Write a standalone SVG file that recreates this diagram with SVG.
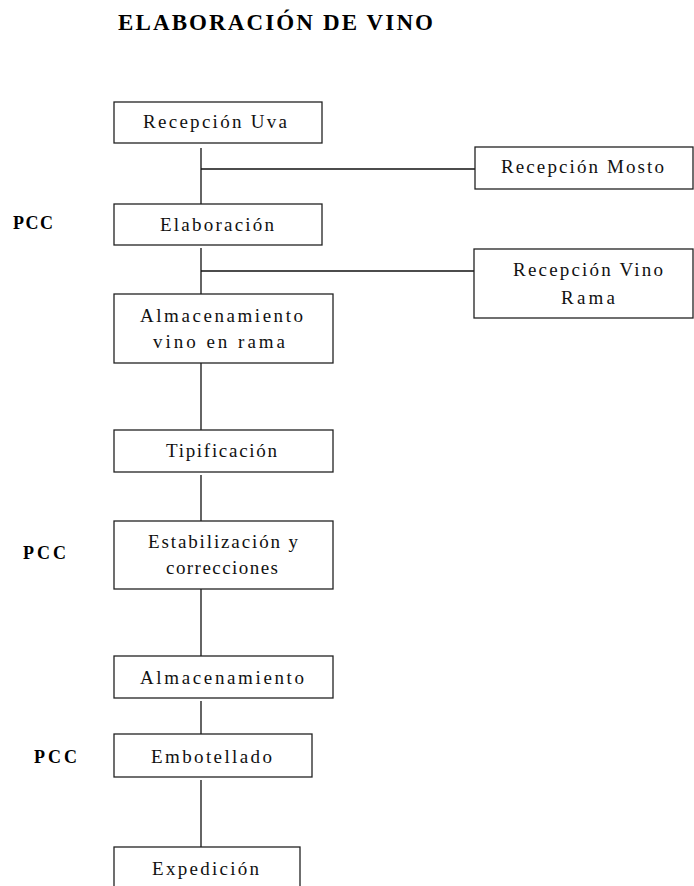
<svg xmlns="http://www.w3.org/2000/svg" width="694" height="886" viewBox="0 0 694 886">
<style>
.box{fill:#fff;stroke:#222;stroke-width:1.3}
.ln{stroke:#111;stroke-width:1.3;fill:none}
.t{font-family:"Liberation Serif","Times New Roman",serif;font-size:19px;fill:#111}
.b{font-family:"Liberation Serif","Times New Roman",serif;font-size:18px;font-weight:bold;fill:#000}
.title{font-family:"Liberation Serif","Times New Roman",serif;font-size:23px;font-weight:bold;fill:#000}
</style>
<rect width="694" height="886" fill="#fff"/>
<text class="title" x="118" y="30" textLength="315" lengthAdjust="spacing">ELABORACIÓN DE VINO</text>
<g id="connectors">
<line class="ln" x1="201" y1="148" x2="201" y2="204"/>
<line class="ln" x1="201" y1="169" x2="475" y2="169"/>
<line class="ln" x1="201" y1="248" x2="201" y2="294"/>
<line class="ln" x1="201" y1="271" x2="474" y2="271"/>
<line class="ln" x1="201" y1="363" x2="201" y2="430"/>
<line class="ln" x1="201" y1="475" x2="201" y2="521"/>
<line class="ln" x1="201" y1="589" x2="201" y2="656"/>
<line class="ln" x1="201" y1="701" x2="201" y2="734"/>
<line class="ln" x1="201" y1="780" x2="201" y2="847"/>
</g>
<g id="recepcion-uva"><rect class="box" x="114" y="102" width="208" height="41"/><text class="t" x="143" y="128" textLength="144" lengthAdjust="spacing">Recepción Uva</text></g>
<g id="recepcion-mosto"><rect class="box" x="475" y="147" width="218" height="42"/><text class="t" x="501" y="173" textLength="163" lengthAdjust="spacing">Recepción Mosto</text></g>
<g id="pcc-1"><text class="b" x="13" y="229" textLength="40" lengthAdjust="spacing">PCC</text></g>
<g id="elaboracion"><rect class="box" x="114" y="204" width="208" height="41"/><text class="t" x="160" y="231" textLength="114" lengthAdjust="spacing">Elaboración</text></g>
<g id="recepcion-vino-rama"><rect class="box" x="474" y="249" width="219" height="69"/><text class="t" x="513" y="276" textLength="150" lengthAdjust="spacing">Recepción Vino</text><text class="t" x="561" y="304" textLength="54" lengthAdjust="spacing">Rama</text></g>
<g id="almacenamiento-rama"><rect class="box" x="114" y="294" width="219" height="69"/><text class="t" x="140" y="322" textLength="163" lengthAdjust="spacing">Almacenamiento</text><text class="t" x="153" y="348" textLength="132" lengthAdjust="spacing">vino en rama</text></g>
<g id="tipificacion"><rect class="box" x="114" y="430" width="219" height="42"/><text class="t" x="166" y="457" textLength="111" lengthAdjust="spacing">Tipificación</text></g>
<g id="pcc-2"><text class="b" x="23" y="559" textLength="43" lengthAdjust="spacing">PCC</text></g>
<g id="estabilizacion"><rect class="box" x="114" y="521" width="219" height="68"/><text class="t" x="148" y="548" textLength="150" lengthAdjust="spacing">Estabilización y</text><text class="t" x="166" y="574" textLength="112" lengthAdjust="spacing">correcciones</text></g>
<g id="almacenamiento"><rect class="box" x="114" y="656" width="219" height="42"/><text class="t" x="140" y="684" textLength="164" lengthAdjust="spacing">Almacenamiento</text></g>
<g id="pcc-3"><text class="b" x="34" y="763" textLength="43" lengthAdjust="spacing">PCC</text></g>
<g id="embotellado"><rect class="box" x="114" y="734" width="198" height="43"/><text class="t" x="151" y="763" textLength="121" lengthAdjust="spacing">Embotellado</text></g>
<g id="expedicion"><rect class="box" x="114" y="847" width="186" height="60"/><text class="t" x="152" y="875" textLength="107" lengthAdjust="spacing">Expedición</text></g>
</svg>
